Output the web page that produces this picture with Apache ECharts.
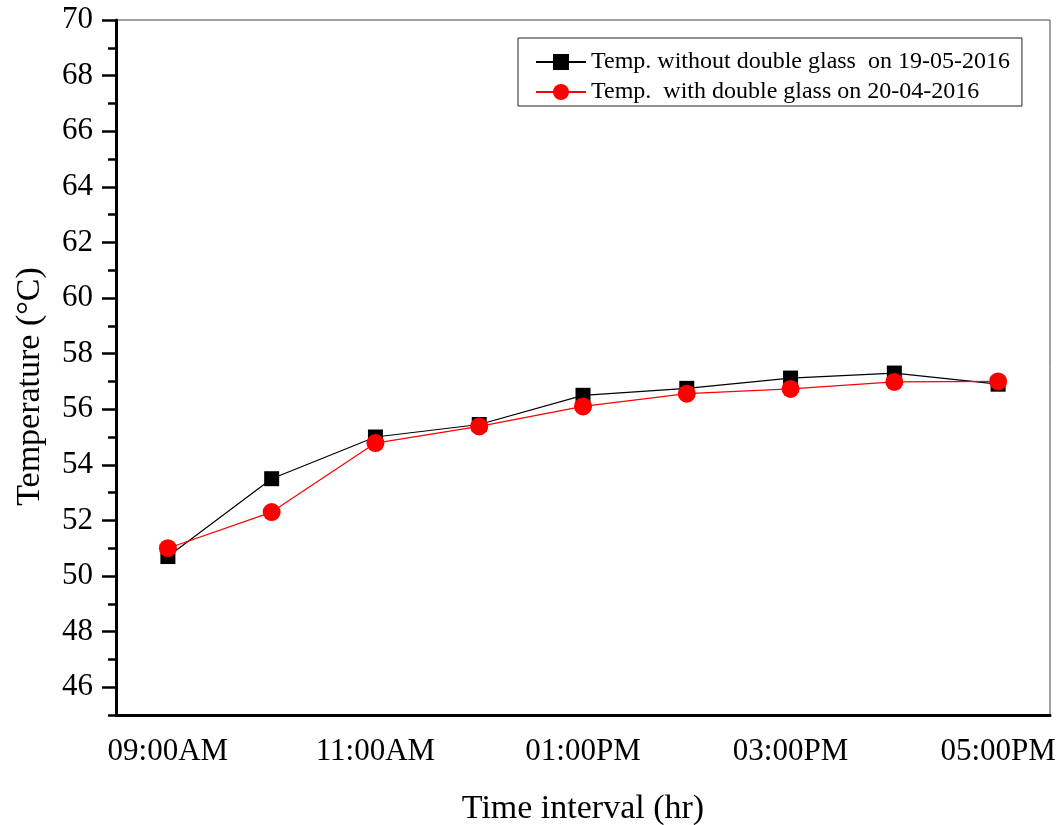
<!DOCTYPE html>
<html>
<head>
<meta charset="utf-8">
<script src="https://cdn.jsdelivr.net/npm/echarts@6/dist/echarts.min.js"></script>
<style>
  html, body { margin: 0; padding: 0; background: #fff; }
  #chart { width: 1061px; height: 825px; }
</style>
</head>
<body>
<div id="chart"></div>
<script>
// Hourly time points
const times = ['09:00AM', '10:00AM', '11:00AM', '12:00PM', '01:00PM', '02:00PM', '03:00PM', '04:00PM', '05:00PM'];
// Temperature readings (°C)
const withoutGlass = [50.7, 53.5, 55.0, 55.45, 56.5, 56.75, 57.12, 57.3, 56.9];
const withGlass = [51.0, 52.3, 54.78, 55.38, 56.1, 56.56, 56.73, 56.98, 57.0];
const seriesNames = ['Temp. without double glass  on 19-05-2016', 'Temp.  with double glass on 20-04-2016'];
// Y axis: labelled (long) ticks and unlabelled (short) ticks
const yMajor = [46, 48, 50, 52, 54, 56, 58, 60, 62, 64, 66, 68, 70];
const yMinor = [45, 47, 49, 51, 53, 55, 57, 59, 61, 63, 65, 67, 69];

const FONT = 'Liberation Serif';
const chart = echarts.init(document.getElementById('chart'), null, { renderer: 'canvas' });

const xBase = {
  type: 'category',
  data: times,
  boundaryGap: true,
  gridIndex: 0,
  position: 'bottom'
};
const yBase = {
  type: 'value',
  min: 45,
  max: 70,
  position: 'left',
  splitLine: { show: false }
};

chart.setOption({
  animation: false,
  backgroundColor: '#fff',
  grid: {
    left: 116, right: 11, top: 20, bottom: 110,
    outerBoundsMode: 'none',
    containLabel: false,
    show: true, borderColor: '#444', borderWidth: 1
  },
  legend: {
    orient: 'vertical',
    left: 518,
    top: 38,
    padding: [12, 12, 2, 17],
    itemGap: 6,
    itemWidth: 50,
    itemHeight: 20,
    borderColor: '#222',
    borderWidth: 1,
    textStyle: { fontFamily: FONT, fontSize: 24, color: '#000' },
    data: seriesNames
  },
  xAxis: [
    Object.assign({}, xBase, {
      name: 'Time interval (hr)',
      nameLocation: 'middle',
      nameGap: 77,
      nameTextStyle: { fontFamily: FONT, fontSize: 34, color: '#000' },
      axisLine: { lineStyle: { color: '#000', width: 3 } },
      axisTick: { alignWithLabel: true, length: 13, lineStyle: { color: '#000', width: 2.5 },
        interval: function (i) { return i % 2 === 0; } },
      axisLabel: { interval: 1, margin: 21, fontFamily: FONT, fontSize: 31, color: '#000' }
    }),
    Object.assign({}, xBase, {
      axisLine: { show: false },
      axisTick: { alignWithLabel: true, length: 7, lineStyle: { color: '#000', width: 2.5 },
        interval: function (i) { return i % 2 === 1; } },
      axisLabel: { show: false }
    })
  ],
  yAxis: [
    Object.assign({}, yBase, {
      name: 'Temperature (°C)',
      nameLocation: 'middle',
      nameGap: 69,
      nameRotate: 90,
      nameTextStyle: { fontFamily: FONT, fontSize: 34, color: '#000', padding: [0, 38, 0, 0] },
      axisLine: { show: true, lineStyle: { color: '#000', width: 3 } },
      axisTick: { show: true, length: 14, customValues: yMajor, lineStyle: { color: '#000', width: 2.5 } },
      axisLabel: { customValues: yMajor, margin: 23, fontFamily: FONT, fontSize: 31, color: '#000' }
    }),
    Object.assign({}, yBase, {
      axisLine: { show: false },
      axisTick: { show: true, length: 8, customValues: yMinor, lineStyle: { color: '#000', width: 2.5 } },
      axisLabel: { show: false }
    })
  ],
  series: [
    {
      name: seriesNames[0],
      type: 'line',
      data: withoutGlass,
      symbol: 'rect',
      symbolSize: 15,
      itemStyle: { color: '#000' },
      lineStyle: { color: '#000', width: 1.2 },
      z: 2
    },
    {
      name: seriesNames[1],
      type: 'line',
      data: withGlass,
      symbol: 'circle',
      symbolSize: 18,
      itemStyle: { color: '#ff0000' },
      lineStyle: { color: '#ff0000', width: 1.2 },
      z: 3
    }
  ]
});
</script>
</body>
</html>
